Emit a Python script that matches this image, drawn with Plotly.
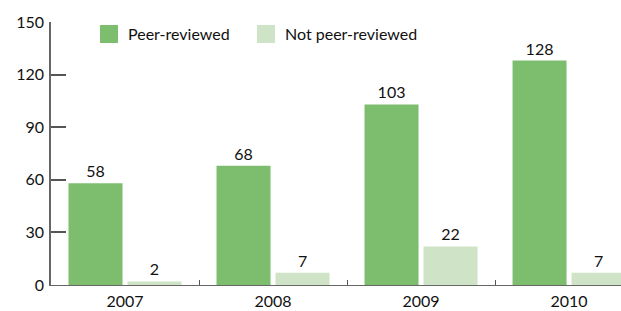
import plotly.graph_objects as go

years = ["2007", "2008", "2009", "2010"]
peer_reviewed = [58, 68, 103, 128]
not_peer_reviewed = [2, 7, 22, 7]
series_names = ["Peer-reviewed", "Not peer-reviewed"]
colors = ["#7dbe6e", "#cfe4c6"]
y_ticks = [0, 30, 60, 90, 120, 150]

FONT = "Lato"
fig = go.Figure()
for name, vals, col in zip(series_names, [peer_reviewed, not_peer_reviewed], colors):
    fig.add_trace(go.Bar(
        x=years, y=vals, name=name, marker=dict(color=col, line=dict(width=0)),
        text=[str(v) for v in vals], textposition="outside",
        textfont=dict(family=FONT, size=16, color="#111"),
        cliponaxis=False, showlegend=False,
    ))

fig.update_layout(
    width=621, height=311,
    margin=dict(l=51, r=0, t=22, b=26),
    paper_bgcolor="white", plot_bgcolor="white",
    barmode="group", bargap=0.2027, bargroupgap=0.0847,
    font=dict(family=FONT, size=16, color="#111"),
    xaxis=dict(
        type="category", range=[-0.5, 3.351], tickson="boundaries",
        ticks="inside", ticklen=5, tickcolor="#555", tickwidth=1,
        showline=True, linecolor="#666", linewidth=1,
        showgrid=False, automargin=False, ticklabelstandoff=2,
        tickfont=dict(family=FONT, size=16, color="#111"),
    ),
    yaxis=dict(
        range=[0, 150], tickvals=y_ticks, ticks="inside", ticklen=15,
        tickcolor="#555", tickwidth=1.5, showline=True, linecolor="#666",
        linewidth=1.5, showgrid=False, zeroline=False, automargin=False,
        ticklabelstandoff=2,
        tickfont=dict(family=FONT, size=16, color="#111"),
    ),
)

# custom legend
leg_x = [100, 257]
for i, (name, col) in enumerate(zip(series_names, colors)):
    fig.add_shape(type="rect", xref="paper", yref="paper",
                  x0=(leg_x[i] - 51) / 570, x1=(leg_x[i] + 18 - 51) / 570,
                  y0=(285 - 43) / 263, y1=(285 - 25) / 263,
                  fillcolor=col, line=dict(width=0))
    fig.add_annotation(xref="paper", yref="paper",
                       x=(leg_x[i] + 26 - 51) / 570, y=(285 - 34) / 263,
                       text=name, showarrow=False, xanchor="left", yanchor="middle",
                       font=dict(family=FONT, size=16, color="#111"))

fig.write_html("out.html", config={"displayModeBar": False},
               post_script="document.body.style.margin='0';")
